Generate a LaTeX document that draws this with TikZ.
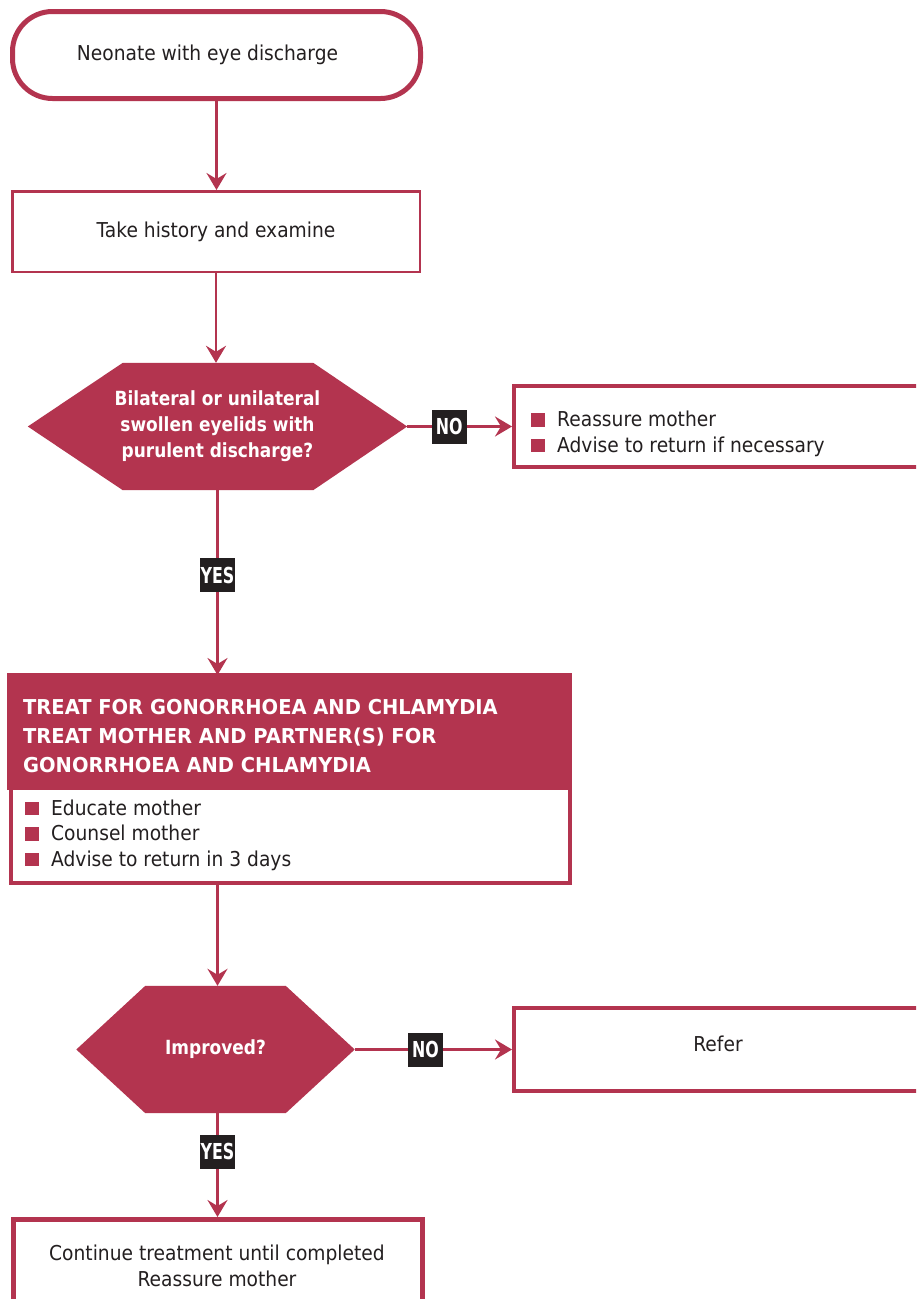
\documentclass[tikz,border=0pt]{standalone}
\usepackage{fontspec}
\setmainfont{DejaVu Sans}[FakeStretch=0.91]
\newfontfamily\hexf{DejaVu Sans}[FakeStretch=0.87]
\newfontfamily\hdrf{DejaVu Sans}[FakeStretch=0.95]
\newfontfamily\lblf{DejaVu Sans}[FakeStretch=0.72]
\usetikzlibrary{arrows.meta,backgrounds}
\definecolor{crim}{RGB}{179,52,79}
\definecolor{lblk}{RGB}{35,31,32}
\newcommand\sqb{{\color{crim}\rule{13.5pt}{13.5pt}}\hspace{12.5pt}}
\begin{document}
\begin{tikzpicture}[x=1pt,y=-1pt,
  every node/.style={inner sep=0pt},
  body/.style={font=\fontsize{20.5}{25.5}\selectfont, text=lblk},
  hextext/.style={text=white, align=center, font=\hexf\bfseries\fontsize{19.5}{26}\selectfont},
  arr/.style={draw=crim, line width=2.5pt, -{Stealth[length=17pt,width=20pt,inset=6pt]}},
  yn/.style={fill=lblk, text=white, font=\lblf\bfseries\fontsize{22}{22}\selectfont, minimum width=35pt, minimum height=34pt},
  frame/.style={draw=crim, line width=#1},
]
\useasboundingbox (0,0) rectangle (916,1299);
\clip (0,0) rectangle (916,1299);

% start
\node[frame=5pt, rounded corners=40pt, minimum width=408pt, minimum height=87pt, body] (start) at (216.5,55) {Neonate with eye discharge\hspace*{18pt}};
% history
\node[frame=2.5pt, minimum width=407.5pt, minimum height=80.5pt, body] (b2) at (216,231.5) {Take history and examine};

% decision 1
\node[hextext, minimum width=379pt, minimum height=127pt] (h1) at (217.5,426.5) {Bilateral or unilateral\\swollen eyelids with\\purulent discharge?};
\begin{scope}[on background layer]
\fill[white] (0,0) rectangle (916,1299);
\fill[crim] (h1.west) -- ([xshift=95pt]h1.north west) -- ([xshift=-94pt]h1.north east) -- (h1.east) -- ([xshift=-94pt]h1.south east) -- ([xshift=95pt]h1.south west) -- cycle;
\end{scope}

% reassure box
\node[frame=4pt, minimum width=420pt, minimum height=81pt, anchor=west] (r1) at (512,426.5) {};
\node[body, anchor=north west, align=left] (r1t) at (531,411) {\sqb Reassure mother\\\sqb Advise to return if necessary};

% treat box
\node[frame=4pt, minimum width=559pt, minimum height=206pt] (t) at (290.5,780) {};
\coordinate (hb) at (572,790);
\fill[crim] ([xshift=-2pt,yshift=2pt]t.north west) rectangle (hb);
\node[anchor=north west, text=white, align=left, font=\hdrf\bfseries\fontsize{20.5}{29}\selectfont] (th) at (23,699) {TREAT FOR GONORRHOEA AND CHLAMYDIA\\TREAT MOTHER AND PARTNER(S) FOR\\GONORRHOEA AND CHLAMYDIA};
\node[body, anchor=north west, align=left] (tl) at (25,799.5) {\sqb Educate mother\\\sqb Counsel mother\\\sqb Advise to return in 3 days};

% decision 2
\node[hextext, minimum width=278pt, minimum height=127pt] (h2) at (215.5,1049.5) {Improved?};
\begin{scope}[on background layer]
\fill[crim] (h2.west) -- ([xshift=69pt]h2.north west) -- ([xshift=-69pt]h2.north east) -- (h2.east) -- ([xshift=-69pt]h2.south east) -- ([xshift=69pt]h2.south west) -- cycle;
\end{scope}

% refer
\node[frame=4pt, minimum width=420pt, minimum height=83pt, anchor=west] (ref) at (512,1049.5) {};
\node[body] (reft) at (718,1044) {Refer};

% continue
\node[frame=5pt, minimum width=409pt, minimum height=160pt, anchor=north] (bt) at (218,1217) {};
\node[body, align=center, font=\fontsize{20.5}{26}\selectfont] (btt) at (217,1266) {Continue treatment until completed\\Reassure mother};

% connectors
\draw[arr] (start.south) -- (start.south |- b2.north);
\draw[arr] (b2.south) -- (b2.south |- h1.north);
\draw[arr] (h1.east) -- (r1.west) node[yn, pos=0.4] (no1) {NO};
\draw[arr] (h1.south) -- (h1.south |- t.north) node[yn, pos=0.46] (yes1) {YES};
\draw[arr] (h1.south |- t.south) -- (h1.south |- h2.north);
\draw[arr] (h2.east) -- (ref.west) node[yn, pos=0.45] (no2) {NO};
\draw[arr] (h1.south |- h2.south) -- (h1.south |- bt.north) node[yn, pos=0.37] (yes2) {YES};
\end{tikzpicture}
\end{document}
